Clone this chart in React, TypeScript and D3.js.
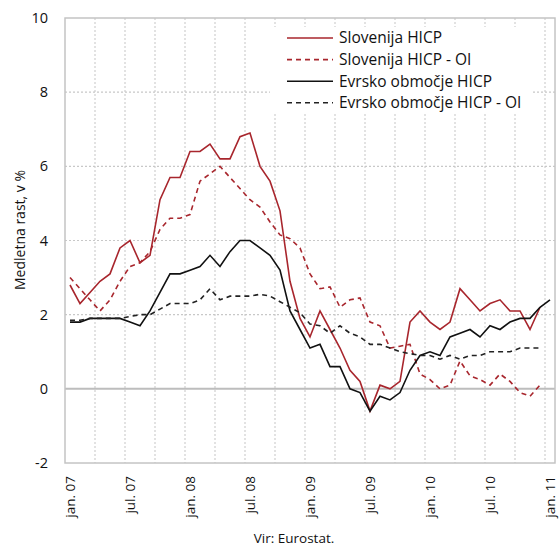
import React from "react";
import * as d3 from "d3";

const months = ["jan", "feb", "mar", "apr", "maj", "jun", "jul", "avg", "sep", "okt", "nov", "dec"];
const years = ["07", "08", "09", "10", "11"];
const categories: string[] = [];
years.forEach((y, yi) => months.forEach((m, mi) => { if (yi < 4 || mi === 0) categories.push(`${m}. ${y}`); }));

const tickLabels = ["jan. 07", "jul. 07", "jan. 08", "jul. 08", "jan. 09", "jul. 09", "jan. 10", "jul. 10", "jan. 11"];
const yTicks = [-2, 0, 2, 4, 6, 8, 10];

const sloHicp: (number | null)[] = [
  2.8, 2.3, 2.6, 2.9, 3.1, 3.8, 4.0, 3.4, 3.6, 5.1, 5.7, 5.7,
  6.4, 6.4, 6.6, 6.2, 6.2, 6.8, 6.9, 6.0, 5.6, 4.8, 2.9, 1.9,
  1.4, 2.1, 1.6, 1.1, 0.5, 0.2, -0.6, 0.1, 0.0, 0.2, 1.8, 2.1,
  1.8, 1.6, 1.8, 2.7, 2.4, 2.1, 2.3, 2.4, 2.1, 2.1, 1.6, 2.2,
  null,
];
const sloHicpOi: (number | null)[] = [
  3.0, 2.7, 2.4, 2.1, 2.4, 2.9, 3.3, 3.4, 3.7, 4.3, 4.6, 4.6,
  4.7, 5.6, 5.8, 6.0, 5.7, 5.4, 5.1, 4.9, 4.5, 4.15, 4.05, 3.8,
  3.1, 2.7, 2.75, 2.2, 2.4, 2.45, 1.8, 1.7, 1.1, 1.15, 1.2, 0.4,
  0.25, 0.0, 0.1, 0.75, 0.35, 0.25, 0.1, 0.4, 0.2, -0.1, -0.2, 0.1,
  null,
];
const euHicp: (number | null)[] = [
  1.8, 1.8, 1.9, 1.9, 1.9, 1.9, 1.8, 1.7, 2.1, 2.6, 3.1, 3.1,
  3.2, 3.3, 3.6, 3.3, 3.7, 4.0, 4.0, 3.8, 3.6, 3.2, 2.1, 1.6,
  1.1, 1.2, 0.6, 0.6, 0.0, -0.1, -0.6, -0.2, -0.3, -0.1, 0.5, 0.9,
  1.0, 0.9, 1.4, 1.5, 1.6, 1.4, 1.7, 1.6, 1.8, 1.9, 1.9, 2.2,
  2.4,
];
const euHicpOi: (number | null)[] = [
  1.85, 1.85, 1.9, 1.9, 1.9, 1.9, 1.95, 2.0, 2.0, 2.15, 2.3, 2.3,
  2.3, 2.4, 2.7, 2.4, 2.5, 2.5, 2.5, 2.55, 2.5, 2.35, 2.2, 2.05,
  1.75, 1.7, 1.5, 1.7, 1.5, 1.4, 1.2, 1.2, 1.1, 1.0, 0.95, 0.9,
  0.9, 0.8, 0.9, 0.8, 0.9, 0.9, 1.0, 1.0, 1.0, 1.1, 1.1, 1.1,
  null,
];

const RED = "#a8262d";
const series = [
  { name: "Slovenija HICP", values: sloHicp, color: RED, dash: "" },
  { name: "Slovenija HICP - OI", values: sloHicpOi, color: RED, dash: "5,4" },
  { name: "Evrsko območje HICP", values: euHicp, color: "#111", dash: "" },
  { name: "Evrsko območje HICP - OI", values: euHicpOi, color: "#222", dash: "5,4" },
];

const FONT = "'Open Sans', 'Noto Sans', sans-serif";

export default function App() {
  const W = 560, H = 547;
  const left = 65, right = 555, top = 18, bottom = 463;
  const x = d3.scalePoint<string>().domain(categories).range([left, right]).padding(0.5);
  const y = d3.scaleLinear().domain([-2, 10]).range([bottom, top]);
  const step = x.step();

  const vGrid = d3.range(3, categories.length, 3).map((i) => left + i * step);

  const line = d3
    .line<number | null>()
    .defined((d) => d !== null)
    .x((_, i) => x(categories[i]) as number)
    .y((d) => y(d as number));

  const legX = 287, legY = 38, legDy = 21.6;

  return (
    <svg width={W} height={H} style={{ position: "absolute", left: 0, top: 0, background: "#fff" }}>
      {vGrid.map((gx, i) => (
        <line key={"v" + i} x1={gx} x2={gx} y1={top} y2={bottom} stroke="#cfcfcf" strokeWidth={1.2} strokeDasharray="2,2" />
      ))}
      {yTicks.filter((t) => t > -2 && t < 10 && t !== 0).map((t) => (
        <line key={"h" + t} x1={left} x2={right} y1={y(t)} y2={y(t)} stroke="#c8c8c8" strokeWidth={1.2} strokeDasharray="2,2" />
      ))}
      <line x1={left} x2={right} y1={y(0)} y2={y(0)} stroke="#bdbdbd" strokeWidth={2} />
      <rect x={left} y={top} width={right - left} height={bottom - top} fill="none" stroke="#c4c4c4" strokeWidth={1.5} />

      <rect x={270} y={27} width={263} height={85} fill="#fff" />

      {series.map((s) => (
        <path key={s.name} d={line(s.values) || ""} fill="none" stroke={s.color} strokeWidth={1.6} strokeDasharray={s.dash} />
      ))}

      {series.map((s, i) => (
        <g key={"l" + i}>
          <line x1={legX} x2={legX + 46} y1={legY + i * legDy} y2={legY + i * legDy} stroke={s.color} strokeWidth={1.6} strokeDasharray={s.dash} />
          <text x={legX + 52} y={legY + i * legDy} dy="0.35em" fontFamily={FONT} fontSize={15.5} fill="#111">
            {s.name}
          </text>
        </g>
      ))}

      {yTicks.map((t) => (
        <text key={"yt" + t} x={48} y={y(t)} dy="0.35em" textAnchor="end" fontFamily={FONT} fontSize={14.5} fill="#111">
          {t}
        </text>
      ))}

      {tickLabels.map((lab) => {
        const cx = x(lab) as number;
        return (
          <text key={lab} transform={`translate(${cx},476) rotate(-90)`} dy="0.35em" textAnchor="end" fontFamily={FONT} fontSize={13.5} fill="#111">
            {lab}
          </text>
        );
      })}

      <text transform={`translate(20,230) rotate(-90)`} dy="0.35em" textAnchor="middle" fontFamily={FONT} fontSize={14} fill="#111">
        Medletna rast, v %
      </text>
      <text x={294} y={538} dy="0.35em" textAnchor="middle" fontFamily={FONT} fontSize={13.5} fill="#111">
        Vir: Eurostat.
      </text>
    </svg>
  );
}
